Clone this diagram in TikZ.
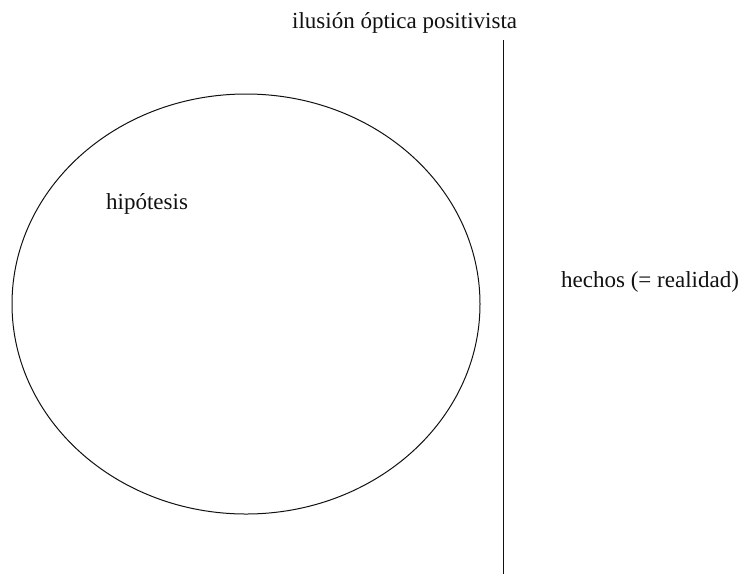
\documentclass[tikz,border=0pt]{standalone}
\usepackage{fontspec}
\setmainfont{Liberation Serif}
\usetikzlibrary{positioning}
\definecolor{Ink}{HTML}{111111}
\tikzset{lbl/.style={font=\fontsize{23}{27}\selectfont,inner sep=0pt,anchor=base west,text=Ink},edge/.style={draw=Ink,line width=1pt}}
\begin{document}
\begin{tikzpicture}[x=1pt,y=-1pt]
\useasboundingbox[fill=white] (0,0) rectangle (749,574);
\draw[edge] (246,304) ellipse [x radius=234pt,y radius=210pt];
\coordinate (top) at (503,40);\coordinate (bot) at (503,574);
\draw[edge] (top) -- (bot);
\node[lbl] (illusion) at (292,28) {ilusión óptica positivista};
\node[lbl] (hyp) at (106,209) {hipótesis};
\node[lbl] (facts) at (561,287) {hechos (= realidad)};
\end{tikzpicture}
\end{document}
